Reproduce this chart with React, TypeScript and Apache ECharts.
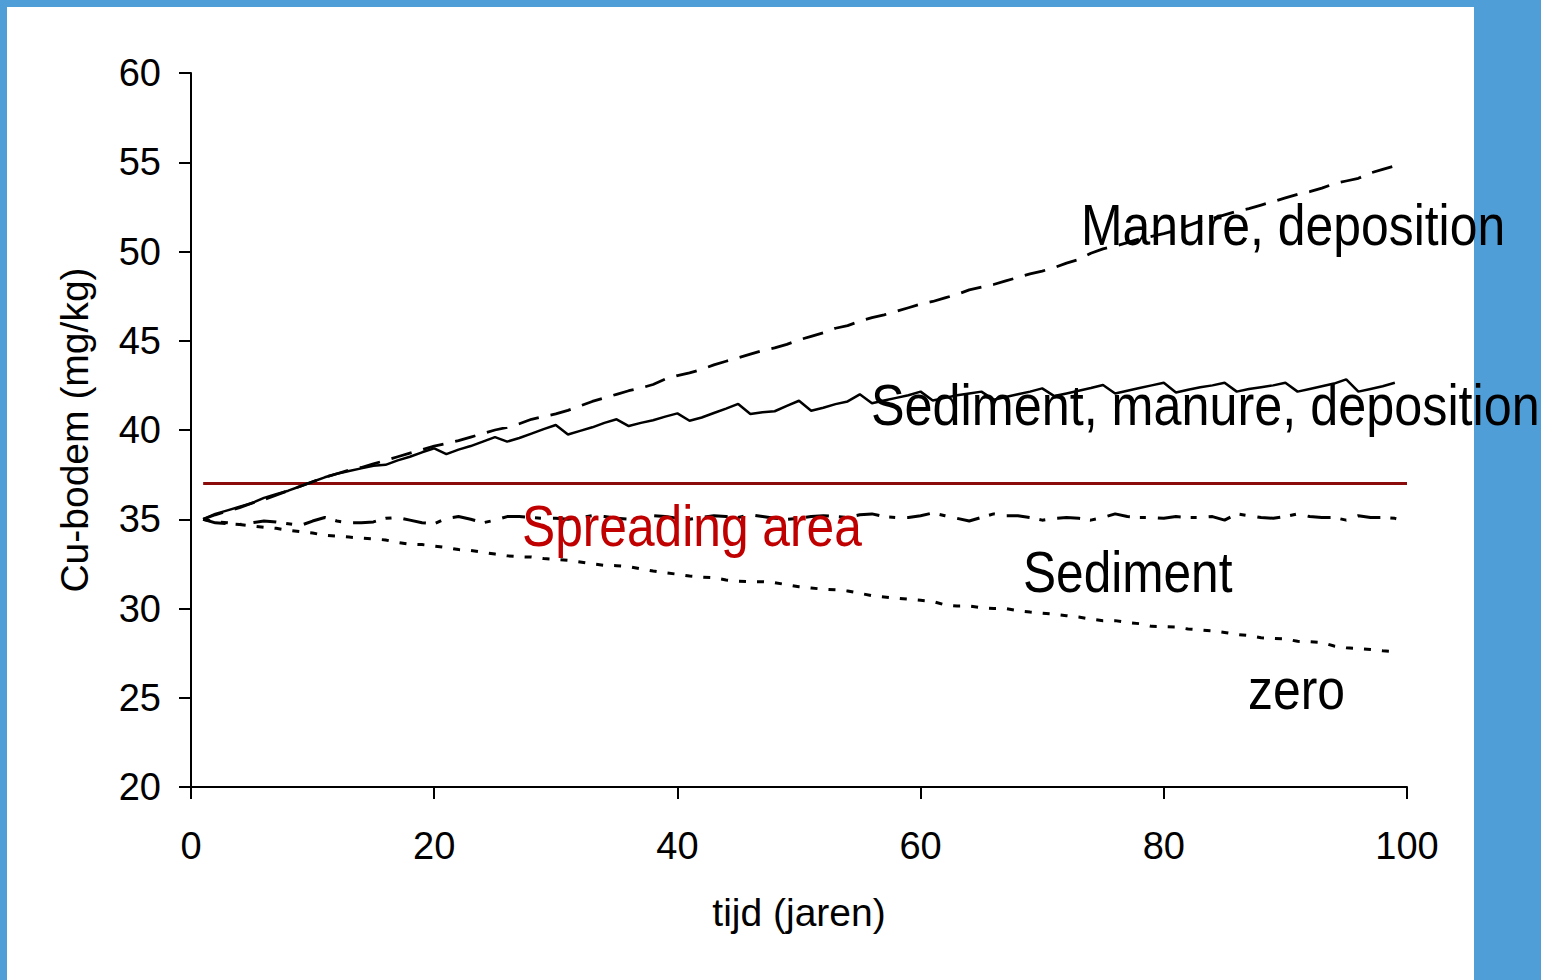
import React, { useEffect, useRef } from "react";
import * as echarts from "echarts";

const W = 1541;
const H = 980;
const BLUE = "#509ed8";
const FONT = '"Liberation Sans", Arial, sans-serif';

// Years 1..100 (x-axis)
const YEARS_FROM = 1;

const MANURE_DEPOSITION = [
  35.0, 35.25, 35.45, 35.65, 35.9, 36.1, 36.35, 36.6, 36.85, 37.1,
  37.35, 37.55, 37.75, 37.9, 38.1, 38.3, 38.5, 38.7, 38.9, 39.1,
  39.25, 39.4, 39.6, 39.8, 40.0, 40.15, 40.35, 40.6, 40.75, 40.9,
  41.1, 41.35, 41.6, 41.8, 42.0, 42.2, 42.35, 42.55, 42.85, 43.05,
  43.2, 43.4, 43.65, 43.85, 44.05, 44.25, 44.45, 44.6, 44.8, 45.05,
  45.25, 45.45, 45.7, 45.85, 46.1, 46.3, 46.45, 46.65, 46.85, 47.05,
  47.2, 47.4, 47.6, 47.85, 48.0, 48.15, 48.35, 48.55, 48.75, 48.9,
  49.1, 49.35, 49.55, 49.9, 50.15, 50.3, 50.5, 50.7, 50.85, 51.0,
  51.2, 51.45, 51.7, 51.85, 52.05, 52.25, 52.4, 52.6, 52.8, 53.0,
  53.2, 53.35, 53.55, 53.8, 53.95, 54.1, 54.4, 54.6, 54.8,
];

const SEDIMENT_MANURE_DEPOSITION = [
  35.0, 35.3, 35.5, 35.7, 35.9, 36.2, 36.4, 36.6, 36.85, 37.1,
  37.35, 37.55, 37.7, 37.85, 38.0, 38.05, 38.3, 38.5, 38.75, 38.97,
  38.65, 38.9, 39.1, 39.35, 39.6, 39.35, 39.55, 39.8, 40.05, 40.28,
  39.75, 39.95, 40.15, 40.4, 40.6, 40.22, 40.4, 40.55, 40.75, 40.93,
  40.52, 40.7, 40.95, 41.2, 41.46, 40.9, 41.0, 41.05, 41.35, 41.64,
  41.08, 41.25, 41.45, 41.6, 42.0, 41.5, 41.65, 41.8, 41.95, 42.15,
  41.65, 41.8, 41.95, 42.05, 42.15, 41.7, 41.85, 42.0, 42.15, 42.33,
  41.9, 42.05, 42.2, 42.35, 42.52, 42.05, 42.2, 42.35, 42.5, 42.65,
  42.1, 42.25, 42.4, 42.5, 42.65, 42.15, 42.3, 42.4, 42.5, 42.65,
  42.15, 42.3, 42.45, 42.6, 42.84, 42.15, 42.3, 42.45, 42.65,
];

const SEDIMENT = [
  35.0, 34.8, 34.75, 34.7, 34.8, 34.9, 34.85, 34.75, 34.65, 34.9,
  35.1, 34.9, 34.8, 34.8, 34.85, 35.05, 35.1, 34.95, 34.8, 34.75,
  35.05, 35.15, 35.0, 34.8, 34.95, 35.15, 35.15, 35.1, 35.05, 35.05,
  35.0, 35.1, 35.2, 35.15, 35.05, 35.0, 35.1, 35.2, 35.15, 35.05,
  35.0, 35.1, 35.2, 35.15, 35.1, 35.25, 35.15, 35.05, 35.0, 35.05,
  35.15, 35.2, 35.15, 35.1, 35.25, 35.3, 35.15, 35.1, 35.1, 35.2,
  35.35, 35.2, 35.05, 34.9, 35.1, 35.3, 35.2, 35.2, 35.1, 34.95,
  35.05, 35.1, 35.05, 34.95, 35.1, 35.3, 35.15, 35.1, 35.1, 35.05,
  35.15, 35.1, 35.1, 35.15, 34.95, 35.3, 35.2, 35.1, 35.05, 35.15,
  35.3, 35.15, 35.1, 35.1, 34.95, 35.2, 35.1, 35.1, 35.05, 34.9,
];

const ZERO = [
  35.0, 34.85, 34.8, 34.7, 34.62, 34.55, 34.49, 34.38, 34.3, 34.23,
  34.1, 34.05, 34.0, 33.95, 33.9, 33.84, 33.7, 33.6, 33.58, 33.5,
  33.42, 33.3, 33.25, 33.15, 33.05, 32.95, 32.9, 32.88, 32.8, 32.75,
  32.7, 32.6, 32.5, 32.42, 32.4, 32.35, 32.22, 32.1, 32.0, 31.92,
  31.82, 31.76, 31.72, 31.6, 31.53, 31.5, 31.5, 31.45, 31.33, 31.22,
  31.15, 31.08, 31.05, 30.98, 30.85, 30.72, 30.65, 30.58, 30.52, 30.46,
  30.4, 30.2, 30.14, 30.14, 30.05, 30.0, 30.0, 29.88, 29.8, 29.74,
  29.68, 29.6, 29.52, 29.4, 29.32, 29.32, 29.22, 29.15, 29.0, 28.98,
  28.96, 28.85, 28.8, 28.75, 28.66, 28.55, 28.48, 28.36, 28.33, 28.3,
  28.16, 28.14, 28.1, 27.9, 27.8, 27.76, 27.7, 27.63, 27.58,
];

const SPREADING_YEARS = [1, 100];
const SPREADING_LEVEL = 37;

const X_MIN = 0, X_MAX = 100, X_STEP = 20;
const Y_MIN = 20, Y_MAX = 60, Y_STEP = 5;

const LABELS = [
  { text: "Manure, deposition", x: 1081, y: 225, color: "#000", sx: 0.86 },
  { text: "Sediment, manure, deposition", x: 871, y: 405, color: "#000", sx: 0.868 },
  { text: "Spreading area", x: 522, y: 526, color: "#c00000", sx: 0.857 },
  { text: "Sediment", x: 1023, y: 572, color: "#000", sx: 0.855 },
  { text: "zero", x: 1248, y: 689, color: "#000", sx: 0.86 },
];

const toPairs = (vals: number[]) => vals.map((v, i) => [YEARS_FROM + i, v]);

export default function App() {
  const ref = useRef<HTMLDivElement>(null);
  useEffect(() => {
    document.body.style.margin = "0";
    document.body.style.overflow = "hidden";
    const chart = echarts.init(ref.current!, null, { renderer: "svg", width: W, height: H });
    const axisCommon = {
      axisLine: { onZero: false, lineStyle: { color: "#000", width: 2 } },
      axisTick: { show: true, inside: false, length: 12, lineStyle: { color: "#000", width: 2 } },
      splitLine: { show: false },
      nameLocation: "middle" as const,
    };
    chart.setOption({
      animation: false,
      backgroundColor: "#ffffff",
      grid: { left: 191, top: 73, width: 1216, height: 714, containLabel: false },
      xAxis: {
        type: "value",
        min: X_MIN,
        max: X_MAX,
        interval: X_STEP,
        ...axisCommon,
        axisLabel: { color: "#000", fontSize: 38, fontFamily: FONT, margin: 40 },
        name: "tijd (jaren)",
        nameGap: 106,
        nameTextStyle: { color: "#000", fontSize: 39, fontFamily: FONT },
      },
      yAxis: {
        type: "value",
        min: Y_MIN,
        max: Y_MAX,
        interval: Y_STEP,
        ...axisCommon,
        axisLabel: { color: "#000", fontSize: 38, fontFamily: FONT, margin: 30 },
        name: "Cu-bodem (mg/kg)",
        nameRotate: 90,
        nameGap: 97,
        nameTextStyle: { color: "#000", fontSize: 39, fontFamily: FONT },
      },
      series: [
        {
          name: "Spreading area",
          type: "line",
          data: SPREADING_YEARS.map((y) => [y, SPREADING_LEVEL]),
          showSymbol: false,
          lineStyle: { color: "#8b0a0a", width: 3, type: "solid" },
          z: 2,
        },
        {
          name: "Manure, deposition",
          type: "line",
          data: toPairs(MANURE_DEPOSITION),
          showSymbol: false,
          lineStyle: { color: "#000", width: 2.8, type: [21, 12] },
          z: 3,
        },
        {
          name: "Sediment, manure, deposition",
          type: "line",
          data: toPairs(SEDIMENT_MANURE_DEPOSITION),
          showSymbol: false,
          lineStyle: { color: "#000", width: 2.5, type: "solid" },
          z: 3,
        },
        {
          name: "Sediment",
          type: "line",
          data: toPairs(SEDIMENT),
          showSymbol: false,
          lineStyle: { color: "#000", width: 3, type: [23, 10, 6, 12] },
          z: 3,
        },
        {
          name: "zero",
          type: "line",
          data: toPairs(ZERO),
          showSymbol: false,
          lineStyle: { color: "#000", width: 3, type: [7, 11] },
          z: 3,
        },
      ],
      graphic: [
        { type: "rect", shape: { x: 0, y: 0, width: 7, height: H }, style: { fill: BLUE }, z: 0 },
        { type: "rect", shape: { x: 0, y: 0, width: W, height: 7 }, style: { fill: BLUE }, z: 0 },
        { type: "rect", shape: { x: 1474, y: 0, width: W - 1474, height: H }, style: { fill: BLUE }, z: 0 },
        ...LABELS.map((l) => ({
          type: "text",
          x: l.x,
          y: l.y,
          scaleX: l.sx,
          z: 10,
          style: {
            text: l.text,
            font: `58px ${FONT}`,
            fill: l.color,
            verticalAlign: "middle",
            align: "left",
          },
        })),
      ],
    });
    return () => chart.dispose();
  }, []);
  return <div ref={ref} style={{ width: W, height: H, position: "absolute", left: 0, top: 0 }} />;
}
